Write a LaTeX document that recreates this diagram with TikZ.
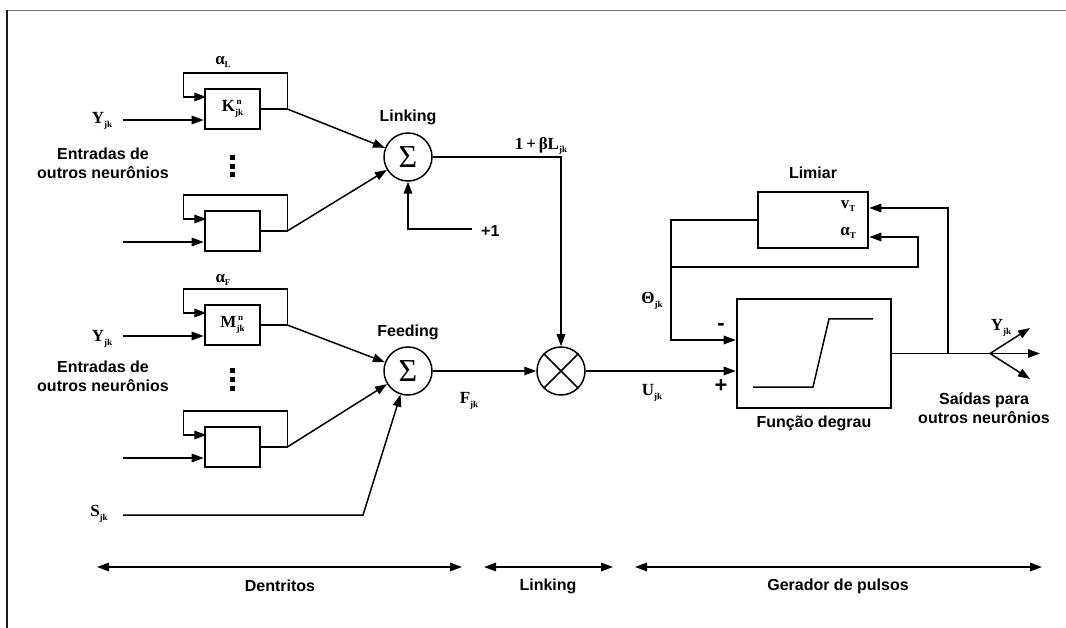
\documentclass[tikz,border=0pt]{standalone}
\usepackage{fontspec}
\setmainfont{Liberation Sans}
\newfontfamily\tnr{Liberation Serif}
\usetikzlibrary{arrows.meta,calc}
\newcommand{\vb}[2]{{\tnr\bfseries\fontsize{17}{17}\selectfont #1\raisebox{-3.5pt}{\fontsize{9}{9}\selectfont #2}}}
\newcommand{\vbs}[3]{{\tnr\bfseries\fontsize{17}{17}\selectfont #1\sbox0{\fontsize{9}{9}\selectfont #3}\rlap{\raisebox{7pt}{\makebox[\wd0][c]{\fontsize{9}{9}\selectfont #2}}}\raisebox{-3.5pt}{\usebox0}}}
\tikzset{
  ln/.style={line width=1.5pt},
  arr/.style={line width=1.5pt,-{Triangle[length=12pt,width=8.5pt]}},
  dbl/.style={line width=1.5pt,{Triangle[length=12pt,width=8.5pt]}-{Triangle[length=12pt,width=8.5pt]}},
  blk/.style={draw,line width=2.6pt,inner sep=0pt},
  smallblk/.style={blk,minimum width=55pt,minimum height=40pt},
  sumnode/.style={circle,draw,line width=1.5pt,minimum size=48pt,inner sep=0pt},
  sigma/.style={font=\tnr\fontsize{32}{32}\selectfont},
  lbl/.style={font=\bfseries\fontsize{16}{19}\selectfont,align=center,inner sep=0pt},
  sym/.style={inner sep=0pt}
}
\begin{document}
\begin{tikzpicture}[x=1pt,y=-1pt]
\useasboundingbox (0,0) rectangle (1066,628);
% frame
\draw[black!55,line width=1.6pt] (6.5,10.5) -- (1066,10.5);
\draw[black!90,line width=1.6pt] (7,10) -- (7,628);

% boxes
\node[smallblk] (kb) at (232.5,109) {\vbs{K}{n}{jk}};
\node[smallblk] (lb) at (232.5,231) {};
\node[smallblk] (mb) at (232.5,325) {\vbs{M}{n}{jk}};
\node[smallblk] (fb) at (232.5,447) {};

% sums
\node[sumnode,sigma] (sumL) at (408,157) {Σ};
\node[sumnode,sigma] (sumF) at (408,371) {Σ};
\node[sumnode] (mult) at (561,371) {};
\draw[ln] (mult.45) -- (mult.225) (mult.135) -- (mult.315);

% function and threshold
\node[blk,minimum width=154pt,minimum height=109pt] (func) at (814,353.5) {};
\node[blk,minimum width=110pt,minimum height=56pt] (lim) at (813,220) {};
\draw[ln] ($(func.center)+(-61,33.5)$) -- ++(60,0) -- ++(16,-68) -- ++(44,0);

% feedback loops on small boxes
\foreach \b in {kb,lb,mb,fb}{
  \draw[arr] (\b.east) -- ++(26,0) -- ++(0,-36) -- ++(-104,0) -- ++(0,24) -- ++(23,0);
  \draw[arr] ($(\b.west)+(-81,11)$) coordinate (in\b) -- ($(\b.west)+(0,11)$);
}
\draw[arr] ($(kb.east)+(26,0)$) -- (sumL);
\draw[arr] ($(lb.east)+(26,0)$) -- (sumL);
\draw[arr] ($(mb.east)+(26,0)$) -- (sumF);
\draw[arr] ($(fb.east)+(26,0)$) -- (sumF);

% S input
\coordinate (sin) at (123,515);
\coordinate (sbend) at (363,515);
\draw[arr] (sin) -- (sbend) -- (sumF);

% +1 input
\coordinate (pone) at (472,229);
\draw[arr] (pone) -| (sumL.south);

% linking to multiplier
\draw[arr] (sumL.east) -| (mult.north);
\draw[arr] (sumF.east) -- (mult.west);
\draw[arr] (mult.east) -- (mult.east -| func.west);

% threshold loop
\coordinate (tl) at (671,267);
\draw[arr] (lim.west) -| (671,340) -- (671,340 -| func.west);
\draw[arr] (tl) -| (918,237) -- (918,237 -| lim.east);

% output
\coordinate (fork) at (990,353.5);
\coordinate (jn) at (948,353.5);
\draw[ln] (func.east) -- (fork);
\draw[arr] (jn) |- (948,208 -| lim.east);
\coordinate (o1) at (1030,328);
\coordinate (o2) at (1040,353.5);
\coordinate (o3) at (1030,379);
\draw[arr] (fork) -- (o1);
\draw[arr] (fork) -- (o2);
\draw[arr] (fork) -- (o3);

% dots
\foreach \yy in {155,164,172}{\fill (230,\yy) rectangle ++(5,5);}
\foreach \yy in {368,377,386}{\fill (230,\yy) rectangle ++(5,5);}

% labels
\node[sym] at (223,62) {\vb{α}{L}};
\node[sym] at (223,280) {\vb{α}{F}};
\node[sym] at (102,121) {\vb{Y}{jk}};
\node[sym] at (102,339) {\vb{Y}{jk}};
\node[sym] at (99,514) {\vb{S}{jk}};
\node[lbl] at (103,163) {Entradas de\\outros neurônios};
\node[lbl] at (103,376) {Entradas de\\outros neurônios};
\node[lbl] at (408,117) {Linking};
\node[lbl] at (408,332) {Feeding};
\node[lbl,anchor=west] at (481,231) {+1};
\node[sym] at (541,146) {\vb{1\,+\,βL}{jk}};
\node[sym] at (469,401) {\vb{F}{jk}};
\node[sym] at (652,393) {\vb{U}{jk}};
\node[sym] at (652,301) {\vb{Θ}{jk}};
\node[lbl,font=\bfseries\fontsize{22}{22}\selectfont] at (721,327) {-};
\node[lbl,font=\bfseries\fontsize{22}{22}\selectfont] at (721,386) {+};
\node[lbl] at (813,173) {Limiar};
\node[sym] at (848,206) {\vb{v}{T}};
\node[sym] at (848,233) {\vb{α}{T}};
\node[lbl] at (814,423) {Função degrau};
\node[sym] at (1001,328) {\vb{Y}{jk}};
\node[lbl] at (984,408) {Saídas para\\outros neurônios};

% bottom scale
\coordinate (d1) at (97,567); \coordinate (d2) at (462,567);
\coordinate (l1) at (484,567); \coordinate (l2) at (613,567);
\coordinate (g1) at (635,567); \coordinate (g2) at (1042,567);
\draw[dbl] (d1) -- (d2);
\draw[dbl] (l1) -- (l2);
\draw[dbl] (g1) -- (g2);
\node[lbl] at (280,586) {Dentritos};
\node[lbl] at (548,586) {Linking};
\node[lbl] at (838,586) {Gerador de pulsos};
\end{tikzpicture}
\end{document}
